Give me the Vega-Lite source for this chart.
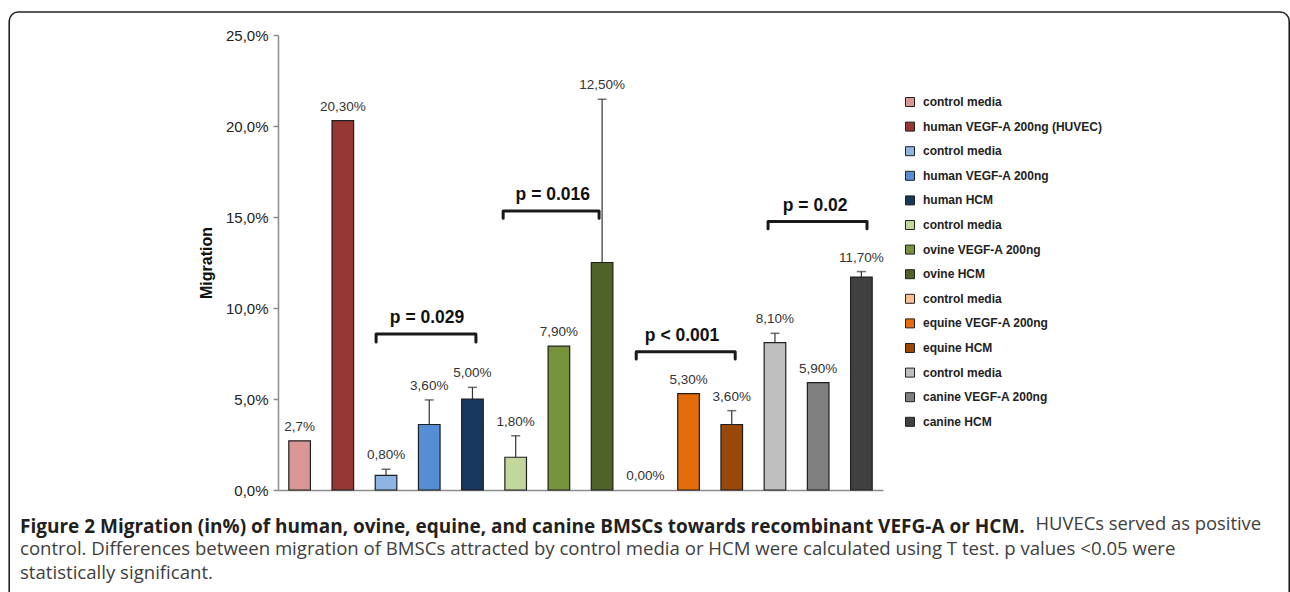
{
  "$schema": "https://vega.github.io/schema/vega-lite/v6.json",
  "width": 605,
  "height": 455,
  "autosize": {"type": "none"},
  "padding": {"left": 278, "top": 35, "right": 407, "bottom": 102},
  "background": "white",
  "config": {"view": {"stroke": null}, "font": "Liberation Sans"},
  "title": {
    "text": "Figure 2 Migration (in%) of human, ovine, equine, and canine BMSCs towards recombinant VEFG-A or HCM.",
    "subtitle": ["control. Differences between migration of BMSCs attracted by control media or HCM were calculated using T test. p values <0.05 were", "statistically significant."],
    "orient": "bottom",
    "anchor": "start",
    "frame": "group",
    "dx": -258,
    "offset": -93,
    "font": "Open Sans",
    "fontSize": 19,
    "fontWeight": "bold",
    "color": "#231f20",
    "subtitleFont": "Open Sans",
    "subtitleFontSize": 18.6,
    "subtitleFontWeight": "normal",
    "subtitleColor": "#404040",
    "subtitlePadding": 3,
    "subtitleLineHeight": 24
  },
  "datasets": {
    "bars": [
      {"series": "01 control media", "value": 2.7, "upper": null, "label": "2,7%"},
      {"series": "02 human VEGF-A 200ng (HUVEC)", "value": 20.3, "upper": null, "label": "20,30%"},
      {"series": "03 control media", "value": 0.8, "upper": 1.14, "label": "0,80%"},
      {"series": "04 human VEGF-A 200ng", "value": 3.6, "upper": 4.95, "label": "3,60%"},
      {"series": "05 human HCM", "value": 5.0, "upper": 5.64, "label": "5,00%"},
      {"series": "06 control media", "value": 1.8, "upper": 2.98, "label": "1,80%"},
      {"series": "07 ovine VEGF-A 200ng", "value": 7.9, "upper": null, "label": "7,90%"},
      {"series": "08 ovine HCM", "value": 12.5, "upper": 21.47, "label": "12,50%"},
      {"series": "09 control media", "value": 0.0, "upper": null, "label": "0,00%"},
      {"series": "10 equine VEGF-A 200ng", "value": 5.3, "upper": null, "label": "5,30%"},
      {"series": "11 equine HCM", "value": 3.6, "upper": 4.36, "label": "3,60%"},
      {"series": "12 control media", "value": 8.1, "upper": 8.61, "label": "8,10%"},
      {"series": "13 canine VEGF-A 200ng", "value": 5.9, "upper": null, "label": "5,90%"},
      {"series": "14 canine HCM", "value": 11.7, "upper": 12.0, "label": "11,70%"}
    ],
    "brackets": [
      {"br": 1, "ord": 1, "bx": 2.27, "by": 8.13},
      {"br": 1, "ord": 2, "bx": 2.27, "by": 8.57},
      {"br": 1, "ord": 3, "bx": 4.58, "by": 8.57},
      {"br": 1, "ord": 4, "bx": 4.58, "by": 8.13},
      {"br": 2, "ord": 1, "bx": 5.21, "by": 14.93},
      {"br": 2, "ord": 2, "bx": 5.21, "by": 15.33},
      {"br": 2, "ord": 3, "bx": 7.43, "by": 15.33},
      {"br": 2, "ord": 4, "bx": 7.43, "by": 14.93},
      {"br": 3, "ord": 1, "bx": 8.29, "by": 7.2},
      {"br": 3, "ord": 2, "bx": 8.29, "by": 7.6},
      {"br": 3, "ord": 3, "bx": 10.58, "by": 7.6},
      {"br": 3, "ord": 4, "bx": 10.58, "by": 7.2},
      {"br": 4, "ord": 1, "bx": 11.34, "by": 14.35},
      {"br": 4, "ord": 2, "bx": 11.34, "by": 14.75},
      {"br": 4, "ord": 3, "bx": 13.63, "by": 14.75},
      {"br": 4, "ord": 4, "bx": 13.63, "by": 14.35}
    ],
    "pvals": [
      {"ptext": "p = 0.029", "px": 3.45, "py": 8.57},
      {"ptext": "p = 0.016", "px": 6.36, "py": 15.33},
      {"ptext": "p < 0.001", "px": 9.35, "py": 7.6},
      {"ptext": "p = 0.02", "px": 12.43, "py": 14.75}
    ]
  },
  "layer": [
    {
      "data": {"name": "bars"},
      "transform": [{"calculate": "isValid(datum.upper) ? datum.upper : datum.value", "as": "top"}],
      "encoding": {
        "x": {
          "field": "series",
          "type": "nominal",
          "sort": null,
          "scale": {"paddingInner": 0.5, "paddingOuter": 0.25},
          "axis": {
            "labels": false,
            "ticks": false,
            "domainColor": "#8c8c8c",
            "domainWidth": 1.5,
            "title": "HUVECs served as positive",
            "titleFont": "Open Sans",
            "titleFontWeight": "normal",
            "titleFontSize": 18.4,
            "titleColor": "#404040",
            "titleX": 757,
            "titleY": 39,
            "titleAlign": "left",
            "titleBaseline": "alphabetic",
            "titleAngle": 0
          }
        }
      },
      "layer": [
        {
          "mark": {"type": "bar", "stroke": "#1f1f1f", "strokeWidth": 1.2},
          "encoding": {
            "y": {
              "field": "value",
              "type": "quantitative",
              "scale": {"domain": [0, 25], "nice": false, "zero": true},
              "axis": {
                "values": [0, 5, 10, 15, 20, 25],
                "labelExpr": "replace(format(datum.value, '.1f'), '.', ',') + '%'",
                "labelFontSize": 15,
                "labelColor": "#222222",
                "labelPadding": 5,
                "tickColor": "#8c8c8c",
                "tickSize": 5,
                "tickWidth": 1.5,
                "domainColor": "#8c8c8c",
                "domainWidth": 1.5,
                "grid": false,
                "title": "Migration",
                "titleFontSize": 16,
                "titleFontWeight": "bold",
                "titleColor": "#111111",
                "titlePadding": 11
              }
            },
            "strokeOpacity": {"condition": {"test": "datum.value == 0", "value": 0}, "value": 1},
            "color": {
              "field": "series",
              "type": "nominal",
              "sort": null,
              "scale": {
                "range": ["#D99694", "#953735", "#8DB4E2", "#558ED5", "#17375E", "#C3D69B", "#77933C", "#4F6228", "#FAC090", "#E46C0A", "#984807", "#BFBFBF", "#808080", "#404040"]
              },
              "legend": {
                "orient": "none",
                "legendX": 626,
                "legendY": 61,
                "title": null,
                "symbolType": "square",
                "symbolSize": 81,
                "symbolStrokeColor": "#222222",
                "symbolStrokeWidth": 1,
                "symbolOpacity": 1,
                "labelFont": "Liberation Sans",
                "labelFontWeight": "bold",
                "labelFontSize": 12,
                "labelColor": "#222222",
                "labelOffset": 7,
                "labelLimit": 400,
                "rowPadding": 10.6,
                "labelExpr": "slice(datum.value, 3)"
              }
            }
          }
        },
        {
          "transform": [{"filter": "isValid(datum.upper)"}],
          "mark": {"type": "rule", "color": "#333333", "strokeWidth": 1.2},
          "encoding": {
            "y": {"field": "value", "type": "quantitative"},
            "y2": {"field": "upper"}
          }
        },
        {
          "transform": [{"filter": "isValid(datum.upper)"}],
          "mark": {"type": "tick", "color": "#333333", "thickness": 1.5, "size": 9},
          "encoding": {
            "y": {"field": "upper", "type": "quantitative"}
          }
        },
        {
          "mark": {"type": "text", "baseline": "bottom", "dy": -7, "fontSize": 13.5, "color": "#333333", "font": "Liberation Sans"},
          "encoding": {
            "y": {"field": "top", "type": "quantitative"},
            "text": {"field": "label", "type": "nominal"}
          }
        }
      ]
    },
    {
      "encoding": {},
      "layer": [
        {
          "data": {"values": [{}]},
          "mark": {"type": "rect", "fillOpacity": 0, "fill": "white", "stroke": "#222222", "strokeWidth": 1.6, "cornerRadius": 9},
          "encoding": {
            "x": {"datum": -6.22, "type": "quantitative", "scale": {"domain": [0, 14], "nice": false, "zero": false}, "axis": null},
            "x2": {"datum": 23.4},
            "y": {"datum": 26.26, "type": "quantitative"},
            "y2": {"datum": -6.6}
          }
        },
        {
          "data": {"name": "brackets"},
          "mark": {"type": "line", "color": "#1a1a1a", "strokeWidth": 3, "strokeCap": "round", "strokeJoin": "round"},
          "encoding": {
            "x": {"field": "bx", "type": "quantitative", "scale": {"domain": [0, 14], "nice": false, "zero": false}, "axis": null},
            "y": {"field": "by", "type": "quantitative"},
            "detail": {"field": "br"},
            "order": {"field": "ord"}
          }
        },
        {
          "data": {"name": "pvals"},
          "mark": {"type": "text", "baseline": "alphabetic", "dy": -11, "fontSize": 17.5, "fontWeight": "bold", "color": "#111111", "font": "Liberation Sans"},
          "encoding": {
            "x": {"field": "px", "type": "quantitative", "scale": {"domain": [0, 14], "nice": false, "zero": false}, "axis": null},
            "y": {"field": "py", "type": "quantitative"},
            "text": {"field": "ptext"}
          }
        }
      ]
    }
  ],
  "resolve": {"scale": {"x": "independent"}, "axis": {"x": "independent"}}
}
